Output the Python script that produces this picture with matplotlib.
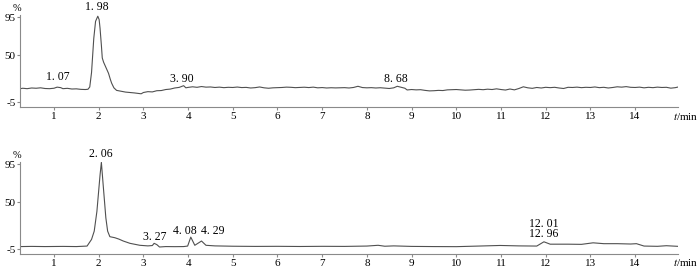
import matplotlib
matplotlib.use("Agg")
import matplotlib.pyplot as plt

# chromatogram 1 (top), time in min, response in %
t_top = [0.25, 0.3, 0.4, 0.5, 0.6, 0.7, 0.8, 0.9, 1.0, 1.07, 1.15, 1.2, 1.3, 1.4, 1.5,
         1.6, 1.7, 1.76, 1.8, 1.84, 1.89, 1.93, 1.98, 2.01, 2.03, 2.06, 2.08, 2.11, 2.14,
         2.18, 2.22, 2.26, 2.29, 2.34, 2.4, 2.5, 2.6, 2.7, 2.8, 2.9, 2.95, 3.0, 3.1, 3.2,
         3.3, 3.4, 3.5, 3.6, 3.7, 3.8, 3.9, 3.95, 4.0, 4.1, 4.2, 4.3, 4.4, 4.5, 4.6, 4.7,
         4.8, 4.9, 5.0, 5.1, 5.2, 5.3, 5.4, 5.5, 5.6, 5.7, 5.8, 5.9, 6.0, 6.1, 6.2, 6.3,
         6.4, 6.5, 6.6, 6.7, 6.8, 6.9, 7.0, 7.1, 7.2, 7.3, 7.4, 7.5, 7.6, 7.7, 7.8, 7.9,
         8.0, 8.1, 8.2, 8.3, 8.4, 8.5, 8.6, 8.68, 8.75, 8.85, 8.9, 9.0, 9.1, 9.2, 9.3,
         9.4, 9.5, 9.6, 9.7, 9.8, 9.9, 10.0, 10.1, 10.2, 10.3, 10.4, 10.5, 10.6, 10.7,
         10.8, 10.9, 11.0, 11.1, 11.2, 11.3, 11.4, 11.5, 11.6, 11.7, 11.8, 11.9, 12.0,
         12.1, 12.2, 12.3, 12.4, 12.5, 12.6, 12.7, 12.8, 12.9, 13.0, 13.1, 13.2, 13.3,
         13.4, 13.5, 13.6, 13.7, 13.8, 13.9, 14.0, 14.1, 14.2, 14.3, 14.4, 14.5, 14.6,
         14.7, 14.8, 14.9, 14.95]
v_top = [11.0, 11.5, 11.0, 11.8, 11.5, 12.0, 11.2, 11.0, 11.5, 12.8, 12.2, 11.0, 11.4, 10.6, 10.8,
         10.2, 10.0, 10.3, 13.0, 30.0, 70.0, 90.0, 96.0, 92.0, 82.0, 62.0, 47.0, 42.0, 38.5,
         34.0, 29.0, 22.0, 17.4, 12.0, 9.0, 8.0, 7.0, 6.5, 6.0, 5.3, 5.0, 6.5, 7.5, 7.2,
         8.6, 8.8, 10.0, 10.5, 11.8, 12.5, 14.5, 12.0, 12.5, 13.2, 12.6, 13.5, 12.8, 13.0, 12.4, 12.8,
         12.2, 12.6, 12.4, 12.9, 12.3, 12.5, 11.8, 12.2, 13.0, 12.0, 11.5, 12.0, 12.2, 12.4, 12.8, 12.6,
         12.2, 12.5, 12.7, 12.3, 12.8, 12.0, 12.3, 11.8, 12.1, 11.9, 12.0, 12.2, 11.8, 12.4, 13.8, 12.3,
         12.0, 12.2, 11.8, 12.1, 11.6, 11.2, 12.0, 13.8, 12.8, 11.5, 9.5, 10.0, 9.6, 9.8, 9.0,
         8.4, 8.6, 9.0, 8.8, 9.6, 9.8, 10.0, 9.6, 9.2, 9.4, 9.8, 10.2, 9.8, 10.4,
         10.0, 10.8, 10.0, 9.4, 10.6, 9.6, 11.2, 13.2, 12.0, 11.4, 12.4, 11.8, 12.6,
         12.2, 12.6, 11.8, 11.2, 12.6, 12.4, 12.8, 12.2, 12.6, 12.4, 13.0, 12.2, 12.6,
         11.8, 12.4, 13.2, 12.8, 13.4, 12.6, 12.4, 12.8, 12.0, 12.6, 12.2, 12.8, 12.4,
         12.6, 11.6, 12.2, 12.8]

# chromatogram 2 (bottom)
t_bot = [0.25, 0.5, 0.8, 1.0, 1.2, 1.5, 1.74, 1.84, 1.9, 1.96, 2.03, 2.06, 2.1, 2.16, 2.2,
         2.25, 2.36, 2.45, 2.55, 2.7, 2.92, 3.1, 3.2, 3.24, 3.3, 3.36, 3.5, 3.7, 3.9, 3.99,
         4.06, 4.15, 4.3, 4.4, 4.6, 5.0, 5.5, 6.0, 6.5, 7.0, 7.5, 8.0, 8.25, 8.4, 8.6, 9.0,
         9.5, 10.0, 10.5, 10.98, 11.4, 11.8, 11.96, 12.1, 12.5, 12.8, 13.06, 13.3, 13.6,
         13.9, 14.03, 14.2, 14.5, 14.7, 14.95]
v_bot = [-1.8, -1.6, -1.8, -1.7, -1.6, -1.8, -1.2, 6.6, 16.3, 39.5, 82.0, 97.0, 70.6, 31.9, 16.3,
         9.8, 8.6, 7.0, 4.7, 2.0, -0.3, -1.0, -0.6, 2.0, 0.5, -2.3, -1.8, -1.9, -1.8, -1.2,
         9.3, -0.3, 4.7, -0.3, -1.0, -1.4, -1.6, -1.5, -1.7, -1.5, -1.6, -1.2, -0.3, -1.4, -1.0, -1.6,
         -1.8, -1.9, -1.2, -0.5, -1.0, -1.2, 3.8, 1.0, 1.0, 0.8, 2.6, 1.6, 1.6,
         1.2, 1.6, -1.2, -1.5, -0.8, -1.5]

# peak labels: text, x, y
lab_top = ["1. 07", "1. 98", "3. 90", "8. 68"]
lab_top_x = [1.09, 1.96, 3.86, 8.65]
lab_top_y = [24.4, 106.8, 22.0, 22.0]
lab_bot = ["2. 06", "3. 27", "4. 08", "4. 29", "12. 01", "12. 96"]
lab_bot_x = [2.05, 3.26, 3.93, 4.56, 11.96, 11.96]
lab_bot_y = [106.6, 9.0, 16.0, 16.0, 25.0, 12.4]

xticks = list(range(1, 15))
yticks = [95, 50, -5]

plt.rcParams["font.family"] = ["Liberation Serif", "DejaVu Serif"]
plt.rcParams["mathtext.fontset"] = "stix"

fig = plt.figure(figsize=(7, 2.7), dpi=100)
ax1 = fig.add_axes([0.0286, 0.6037, 0.94, 0.341])
ax2 = fig.add_axes([0.0286, 0.0593, 0.94, 0.341])

axis_col = "#8a8a8a"
line_col = "#505050"

for ax, t, v, labs, lx, ly in [(ax1, t_top, v_top, lab_top, lab_top_x, lab_top_y),
                               (ax2, t_bot, v_bot, lab_bot, lab_bot_x, lab_bot_y)]:
    ax.plot(t, v, color=line_col, lw=0.8)
    ax.set_xlim(0.24, 14.96)
    ax.set_ylim(-10.5, 97.5)
    for s in ["top", "right"]:
        ax.spines[s].set_visible(False)
    for s in ["left", "bottom"]:
        ax.spines[s].set_color(axis_col)
        ax.spines[s].set_linewidth(0.8)
    ax.set_xticks(xticks)
    ax.set_xticklabels([str(i) for i in xticks])
    ax.set_yticks(yticks)
    ax.set_yticklabels([str(i) for i in yticks])
    ax.tick_params(axis="both", length=2.5, width=0.8, color=axis_col, labelsize=8, pad=0.8)
    for s, x, y in zip(labs, lx, ly):
        ax.text(x, y, s, ha="center", va="center", fontsize=8.5, clip_on=False)
    ax.text(-0.005, 1.02, "%", transform=ax.transAxes, ha="center", va="bottom", fontsize=7.5)

# axis titles at the right end of each time axis
fig.text(0.998, 1 - 117 / 270, "$t$/min", ha="right", va="center", fontsize=8)
fig.text(0.998, 1 - 263 / 270, "$t$/min", ha="right", va="center", fontsize=8)

fig.savefig("out.png", dpi=100)
